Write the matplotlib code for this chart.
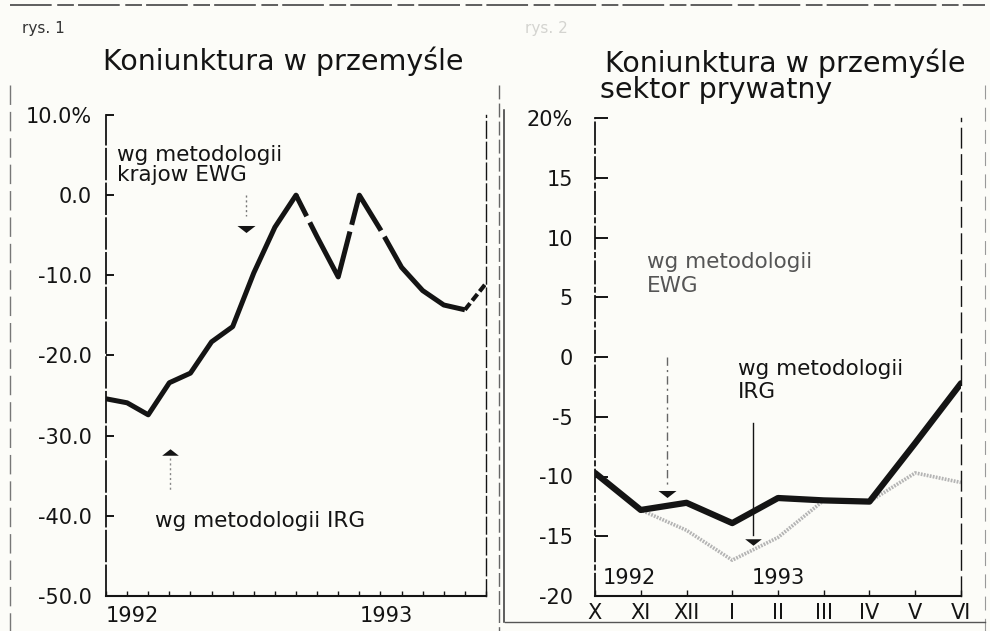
import numpy as np
import matplotlib.pyplot as plt
from matplotlib.lines import Line2D
from matplotlib.transforms import blended_transform_factory

plt.rcParams['font.family'] = ['DejaVu Sans']
plt.rcParams['lines.scale_dashes'] = False

W, H = 990, 631
INK = '#141414'
BG = '#fcfcf8'

# --- left panel: Koniunktura w przemyśle (monthly, I.1992 - VII.1993) ---
months_left = np.arange(19)
ewg_left = [-25.4, -25.9, -27.4, -23.4, -22.2, -18.3, -16.4, -9.7, -4.0, 0.0,
            -5.2, -10.2, 0.0, -4.3, -9.0, -11.9, -13.7, -14.3, -11.0]
left_yticks = [10, 0, -10, -20, -30, -40, -50]
left_yticklabels = ['10.0%', '0.0', '-10.0', '-20.0', '-30.0', '-40.0', '-50.0']
left_years = ['1992', '1993']
left_year_pos = [0, 12]

# --- right panel: sektor prywatny (X.1992 - VI.1993) ---
months_right = ['X', 'XI', 'XII', 'I', 'II', 'III', 'IV', 'V', 'VI']
ewg_right = [-9.7, -12.8, -12.2, -13.9, -11.8, -12.0, -12.1, -7.2, -2.2]
irg_right = [-9.7, -12.8, -14.5, -17.0, -15.1, -12.0, -12.1, -9.7, -10.5]
right_yticks = [-20, -15, -10, -5, 0, 5, 10, 15, 20]
right_yticklabels = ['-20', '-15', '-10', '-5', '0', '5', '10', '15', '20%']
right_years = ['1992', '1993']
right_year_pos = [0.17, 3.43]

down_tri = [(-1, 0.39), (1, 0.39), (0, -0.39), (-1, 0.39)]
up_tri = [(-1, -0.39), (1, -0.39), (0, 0.39), (-1, -0.39)]


def fig_rect(x0, y0, x1, y1):
    return [x0 / W, 1 - y1 / H, (x1 - x0) / W, (y1 - y0) / H]


def fline(xs, ys, **kw):
    fig.add_artist(Line2D([x / W for x in xs], [1 - y / H for y in ys],
                          transform=fig.transFigure, **kw))


fig = plt.figure(figsize=(W / 100, H / 100), dpi=100, facecolor=BG)

# scan frame lines
fline([10, 985], [5, 5], color='#444', lw=1.2, ls=(0, (30, 4, 12, 3)))
fline([10, 10], [85, 631], color='#777', lw=1.0, ls=(0, (14, 5)))
fline([499, 499], [85, 631], color='#666', lw=1.0, ls=(0, (10, 3)))
fline([504, 504], [110, 622], color='#333', lw=1.1)
fline([985, 985], [85, 631], color='#999', lw=0.8, ls=(0, (10, 6)))
fline([505, 985], [622, 622], color='#555', lw=1.0)

# ---------- left ----------
ax1 = fig.add_axes(fig_rect(106, 115, 486, 596))
ax1.patch.set_alpha(0)
ax1.set_xlim(0, 18)
ax1.set_ylim(-50, 10)
ax1.spines['top'].set_visible(False)
ax1.spines['left'].set_linewidth(1.3)
ax1.spines['left'].set_linestyle((0, (22, 3)))
ax1.spines['bottom'].set_linewidth(1.5)
ax1.spines['right'].set_linewidth(1.0)
ax1.spines['right'].set_linestyle((0, (12, 3)))
for s in ax1.spines.values():
    s.set_color(INK)

ax1.plot(months_left[:10], ewg_left[:10], color=INK, lw=3.6,
         solid_joinstyle='round', solid_capstyle='round')
ax1.plot(months_left[9:18], ewg_left[9:18], color=INK, lw=3.6,
         ls=(0, (17, 5, 78, 5, 52, 5, 400, 1)), dash_joinstyle='round')
ax1.plot(months_left[17:], ewg_left[17:], color=INK, lw=3.0, ls=(0, (6, 2.5)))

ax1.set_yticks(left_yticks)
ax1.set_yticklabels(left_yticklabels)
ax1.set_xticks(months_left)
ax1.set_xticklabels([])
ax1.tick_params(axis='y', direction='in', length=6, width=1.4, pad=10,
                labelsize=15, colors=INK)
ax1.tick_params(axis='x', direction='in', length=3.5, width=1.0, colors=INK)

tr1 = blended_transform_factory(ax1.transData, ax1.transAxes)
for pos, yr in zip(left_year_pos, left_years):
    ax1.text(pos, -0.02, yr, transform=tr1, ha='left', va='top', fontsize=15, color=INK)

# arrows
ax1.plot([6.63, 6.63], [0.0, -2.6], color='#777', lw=1.0, ls=(0, (1.5, 2)))
ax1.plot([6.63], [-4.2], marker=down_tri, ms=13, color=INK, mew=0)
ax1.plot([3.03, 3.03], [-32.8, -36.8], color='#888', lw=1.0, ls=(0, (1.5, 2)))
ax1.plot([3.03], [-32.0], marker=up_tri, ms=12, color=INK, mew=0)

ax1.text(0.52, 6.2, 'wg metodologii\nkrajow EWG', ha='left', va='top',
         fontsize=15.5, color=INK, linespacing=1.0)
ax1.text(2.32, -40.6, 'wg metodologii IRG', ha='left', va='center',
         fontsize=15.5, color=INK)

# ---------- right ----------
ax2 = fig.add_axes(fig_rect(595, 118, 961, 596))
ax2.patch.set_alpha(0)
ax2.set_xlim(0, 8)
ax2.set_ylim(-20, 20)
ax2.spines['top'].set_visible(False)
ax2.spines['left'].set_linewidth(1.3)
ax2.spines['left'].set_linestyle((0, (16, 3, 3, 3)))
ax2.spines['bottom'].set_linewidth(1.5)
ax2.spines['right'].set_linewidth(1.0)
ax2.spines['right'].set_linestyle((0, (14, 5)))
for s in ax2.spines.values():
    s.set_color(INK)

x_r = np.arange(len(months_right))
ax2.plot(x_r, irg_right, color='#b4b4b4', lw=2.6, ls=(0, (1.3, 0.9)), zorder=2)
ax2.plot(x_r, ewg_right, color=INK, lw=4.5, solid_joinstyle='round',
         solid_capstyle='round', zorder=3)

ax2.set_yticks(right_yticks)
ax2.set_yticklabels(right_yticklabels)
ax2.set_xticks(x_r)
ax2.set_xticklabels(months_right)
ax2.tick_params(axis='y', direction='in', length=9, width=1.4, pad=16,
                labelsize=15, colors=INK)
ax2.tick_params(axis='x', direction='in', length=4, width=1.0, pad=5,
                labelsize=15, colors=INK)

for pos, yr in zip(right_year_pos, right_years):
    ax2.text(pos, -18.5, yr, ha='left', va='center', fontsize=15, color=INK)

ax2.plot([1.57, 1.57], [0.0, -10.9], color='#666', lw=1.0, ls=(0, (6, 3, 1.5, 3)))
ax2.plot([1.57], [-11.5], marker=down_tri, ms=13, color=INK, mew=0)
ax2.plot([3.45, 3.45], [-5.5, -14.9], color=INK, lw=1.0)
ax2.plot([3.45], [-15.5], marker=down_tri, ms=12, color=INK, mew=0)

ax2.text(1.14, 8.8, 'wg metodologii\nEWG', ha='left', va='top', fontsize=15.5,
         color='#555', linespacing=1.25)
ax2.text(3.13, -0.2, 'wg metodologii\nIRG', ha='left', va='top', fontsize=15.5,
         color=INK, linespacing=1.15)

# ---------- titles ----------
fig.text(22 / W, 1 - 33 / H, 'rys. 1', fontsize=11, color='#333', va='baseline')
fig.text(525 / W, 1 - 33 / H, 'rys. 2', fontsize=11, color='#d4d4d0', va='baseline')
fig.text(103 / W, 1 - 70 / H, 'Koniunktura w przemyśle', fontsize=20.5,
         color=INK, va='baseline')
fig.text(605 / W, 1 - 72 / H, 'Koniunktura w przemyśle', fontsize=20.5,
         color=INK, va='baseline')
fig.text(600 / W, 1 - 98 / H, 'sektor prywatny', fontsize=20.5,
         color=INK, va='baseline')

fig.savefig('out.png', dpi=100, facecolor=BG)
